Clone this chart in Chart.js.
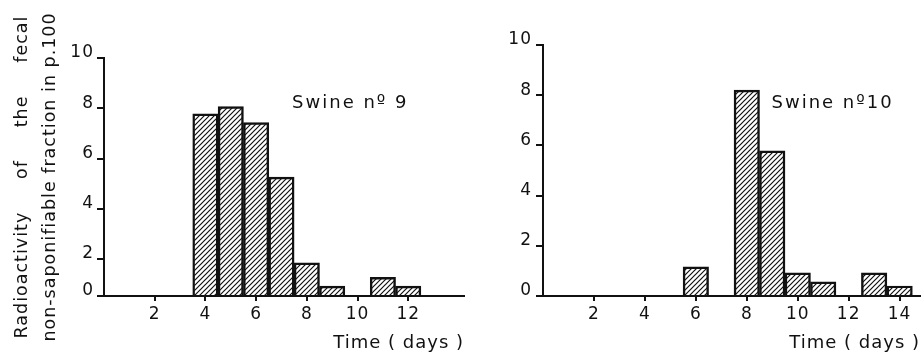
<!DOCTYPE html>
<html><head><meta charset="utf-8">
<script src="https://cdn.jsdelivr.net/npm/chart.js@4.4.1/dist/chart.umd.min.js"></script>
<style>
html,body{margin:0;padding:0;background:#fff;}
#wrap{position:relative;width:922px;height:356px;overflow:hidden;background:#fff;}
#c1{position:absolute;left:0;top:0;}
#c2{position:absolute;left:470px;top:0;}
</style></head><body>
<div id="wrap"><canvas id="c1" width="470" height="356"></canvas><canvas id="c2" width="452" height="356"></canvas></div>
<script>
// ---- data ----
const days9 = [4, 5, 6, 7, 8, 9, 11, 12];
const values9 = [7.78, 8.07, 7.43, 5.26, 1.85, 0.92, 1.27, 0.92];
const days10 = [6, 8, 9, 10, 11, 13, 14];
const values10 = [1.16, 8.2, 5.78, 0.92, 0.56, 0.92, 0.40];
const xTicks9 = [2, 4, 6, 8, 10, 12];
const xTicks10 = [2, 4, 6, 8, 10, 12, 14];
const yTicks = [0, 2, 4, 6, 8, 10];
const yTitleLines = ['Radioactivity     of     the     fecal', 'non-saponifiable fraction in p.100'];
const xTitle = 'Time ( days )';
const label9 = 'Swine nº 9';
const label10 = 'Swine nº10';

// ---- style ----
const INK = '#111';
const FONT = '"DejaVu Sans", sans-serif';
const leftZero = 0.53; // left panel baseline sits above the linear 0 of its tick scale

function hatch(ctx) {
  const s = 5;
  const c = document.createElement('canvas');
  c.width = s; c.height = s;
  const g = c.getContext('2d');
  g.strokeStyle = '#111';
  g.lineWidth = 1.2;
  g.beginPath();
  g.moveTo(0, s); g.lineTo(s, 0);
  g.moveTo(-1, 1); g.lineTo(1, -1);
  g.moveTo(s - 1, s + 1); g.lineTo(s + 1, s - 1);
  g.stroke();
  return ctx.createPattern(c, 'repeat');
}

const spacing = {
  id: 'spacing',
  beforeUpdate(chart) { chart.ctx.letterSpacing = '1px'; },
  beforeDraw(chart) { chart.ctx.letterSpacing = '1px'; }
};
const annot = {
  id: 'annot',
  afterDatasetsDraw(chart, args, o) {
    const {ctx, scales: {x, y}} = chart;
    ctx.save();
    ctx.letterSpacing = '2px';
    ctx.font = '18px ' + FONT;
    ctx.fillStyle = INK;
    ctx.textAlign = 'left';
    ctx.textBaseline = 'alphabetic';
    ctx.fillText(o.text, x.getPixelForValue(o.x), y.getPixelForValue(o.y));
    ctx.restore();
  }
};

function makeChart(id, days, values, xTicks, xMax, yMin, yTickVals, opts) {
  const canvas = document.getElementById(id);
  const ctx = canvas.getContext('2d');
  return new Chart(ctx, {
    type: 'bar',
    data: {
      datasets: [{
        data: days.map((d, i) => ({x: d, y: values[i]})),
        backgroundColor: hatch(ctx),
        borderColor: INK,
        borderWidth: 1.8,
        barPercentage: 1,
        categoryPercentage: 1,
        grouped: false
      }]
    },
    options: {
      responsive: false,
      animation: false,
      devicePixelRatio: 1,
      layout: {padding: {left: 0, right: opts.padRight, top: opts.padTop, bottom: 0}},
      plugins: {legend: {display: false}, tooltip: {enabled: false}, annot: opts.annot},
      scales: {
        x: {
          type: 'linear', min: 0, max: xMax, offset: false,
          afterBuildTicks: s => { s.ticks = xTicks.map(v => ({value: v})); },
          afterFit: s => { s.height = 60; },
          grid: {offset: false, drawOnChartArea: false, drawTicks: true, tickLength: 5, color: INK, lineWidth: 2},
          border: {color: INK, width: 2},
          ticks: {font: {family: FONT, size: 17}, color: INK, padding: 3, maxRotation: 0, autoSkip: false},
          title: {display: true, text: xTitle, align: 'end', color: INK,
                  font: {family: FONT, size: 18}, padding: {top: 0, bottom: 2}}
        },
        y: {
          min: yMin, max: 10,
          afterBuildTicks: s => { s.ticks = yTickVals.map(v => ({value: v})); },
          afterFit: s => { s.width = opts.yWidth; },
          grid: {drawOnChartArea: false, drawTicks: true, tickLength: 7, color: INK, lineWidth: 2},
          border: {color: INK, width: 2},
          ticks: {font: {family: FONT, size: 17}, color: INK, padding: opts.yPad, labelOffset: -5,
                  callback: (v, i) => String(yTicks[i])},
          title: opts.yTitle
        }
      }
    },
    plugins: [spacing, annot]
  });
}

makeChart('c1', days9, values9, xTicks9, 14.2, leftZero,
  yTicks.map(v => v === 0 ? leftZero : v),
  {padRight: 6, padTop: 58, yWidth: 104, yPad: 3,
   annot: {text: label9, x: 7.42, y: 8.02},
   yTitle: {display: true, text: yTitleLines, color: INK, font: {family: FONT, size: 17.5, lineHeight: 1.6},
            padding: {top: 8, bottom: 0}}});

makeChart('c2', days10, values10, xTicks10, 14.8, 0, yTicks,
  {padRight: 2, padTop: 45, yWidth: 73, yPad: 4,
   annot: {text: label10, x: 8.97, y: 7.49},
   yTitle: {display: false}});
</script>
</body></html>
